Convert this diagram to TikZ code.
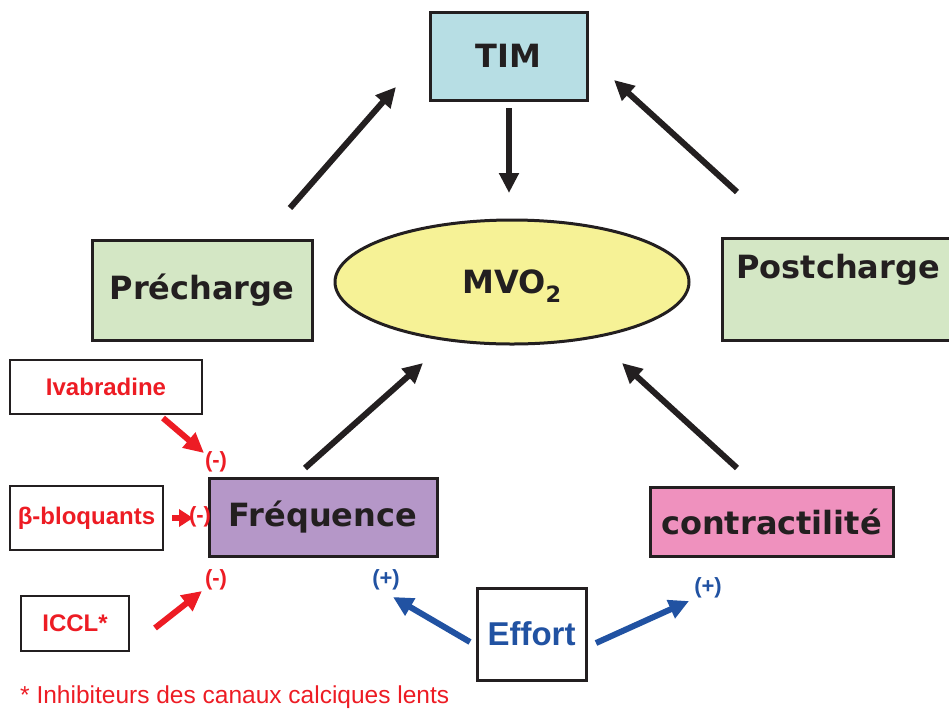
\documentclass[tikz,border=0pt]{standalone}
\usepackage{fontspec}
\setmainfont{Liberation Sans}
\newfontfamily\boxfont{DejaVu Sans}
\usepackage{xcolor}
\definecolor{timfill}{RGB}{183,222,228}
\definecolor{chargefill}{RGB}{212,231,197}
\definecolor{mvofill}{RGB}{246,242,150}
\definecolor{freqfill}{RGB}{181,151,200}
\definecolor{contrfill}{RGB}{239,145,190}
\definecolor{drugred}{RGB}{237,28,36}
\definecolor{effblue}{RGB}{33,82,162}
\definecolor{ink}{RGB}{35,31,32}
\usetikzlibrary{arrows.meta,shapes.geometric,positioning}
\newcommand{\drw}[3]{\draw[#1] (#2) -- (#3)}

\begin{document}
\begin{tikzpicture}[
      x=1pt,y=-1pt,
      >={Triangle[length=20pt,width=19pt]},
      box/.style={rectangle,draw=ink,line width=3pt,text=ink,inner sep=0pt,font=\boxfont\bfseries\fontsize{32}{36}\selectfont},
      drug/.style={rectangle,draw=ink,line width=2.6pt,fill=white,text=drugred,inner sep=0pt,font=\bfseries\fontsize{24}{28}\selectfont},
      minus/.style={text=drugred,inner sep=0pt,font=\bfseries\fontsize{22}{26}\selectfont},
      plus/.style={text=effblue,inner sep=0pt,font=\bfseries\fontsize{22}{26}\selectfont},
      blk/.style={->,line width=6pt,draw=ink},
      red/.style={->,line width=6pt,draw=drugred},
      blu/.style={->,line width=6pt,draw=effblue}]

      \useasboundingbox (0,0) rectangle (949,713);

      % Define nodes
      \node[box,fill=timfill,minimum width=157pt,minimum height=88pt] (TIM) at (508.5,56) {TIM};
      \node[box,fill=mvofill,ellipse,minimum width=354pt,minimum height=124pt,text height=32pt] (MVO) at (512,282) {MVO\textsubscript{2}};
      \node[box,fill=chargefill,minimum width=220pt,minimum height=100pt] (PRE) at (202,290) {Précharge};
      \node[box,fill=chargefill,minimum width=232pt,minimum height=102pt,text depth=46pt] (POST) at (838,289) {Postcharge};
      \node[box,fill=freqfill,minimum width=228pt,minimum height=78pt] (FREQ) at (323,517) {Fréquence};
      \node[box,fill=contrfill,minimum width=243pt,minimum height=69pt] (CONTR) at (771.5,521.5) {contractilité};
      \node[box,fill=white,text=effblue,minimum width=109pt,minimum height=92pt,font=\bfseries\fontsize{33}{37}\selectfont] (EFF) at (531.5,634) {Effort};

      \node[drug,minimum width=192pt,minimum height=54pt] (IVA) at (106,387) {Ivabradine};
      \node[drug,minimum width=153pt,minimum height=64pt] (BETA) at (86.5,518) {β-bloquants};
      \node[drug,minimum width=108pt,minimum height=55pt] (ICCL) at (75,623.5) {ICCL*};

      \node[minus] (M1) at (216,462) {(-)};
      \node[minus] (M2) at (200,517) {(-)};
      \node[minus] (M3) at (216,580) {(-)};
      \node[plus] (P1) at (386,580) {(+)};
      \node[plus] (P2) at (708,588) {(+)};

      \node[anchor=west,text=drugred,inner sep=0pt,font=\fontsize{24.5}{28}\selectfont] (NOTE) at (20,697) {* Inhibiteurs des canaux calciques lents};

      % Arrow ends
      \coordinate (preA) at (290,208);  \coordinate (preB) at (396,87);
      \coordinate (timA) at (509,108);  \coordinate (timB) at (509,193);
      \coordinate (postA) at (737,192); \coordinate (postB) at (614,80);
      \coordinate (freqA) at (305,468); \coordinate (freqB) at (423,363);
      \coordinate (conA) at (737,468);  \coordinate (conB) at (622,363);
      \coordinate (ivaA) at (163,418);  \coordinate (ivaB) at (204,453);
      \coordinate (betaA) at (172,518); \coordinate (betaB) at (193,518);
      \coordinate (icclA) at (155,628); \coordinate (icclB) at (202,591);
      \coordinate (effA) at (470,642);  \coordinate (effB) at (393,597);
      \coordinate (effC) at (596,643);  \coordinate (effD) at (689,601);

      % Draw paths
      \drw{blk}{preA}{preB};
      \drw{blk}{timA}{timB};
      \drw{blk}{postA}{postB};
      \drw{blk}{freqA}{freqB};
      \drw{blk}{conA}{conB};
      \drw{red}{ivaA}{ivaB};
      \drw{red,>={Triangle[length=14pt,width=17pt]}}{betaA}{betaB};
      \drw{red}{icclA}{icclB};
      \drw{blu}{effA}{effB};
      \drw{blu}{effC}{effD};

  \end{tikzpicture}
\end{document}
